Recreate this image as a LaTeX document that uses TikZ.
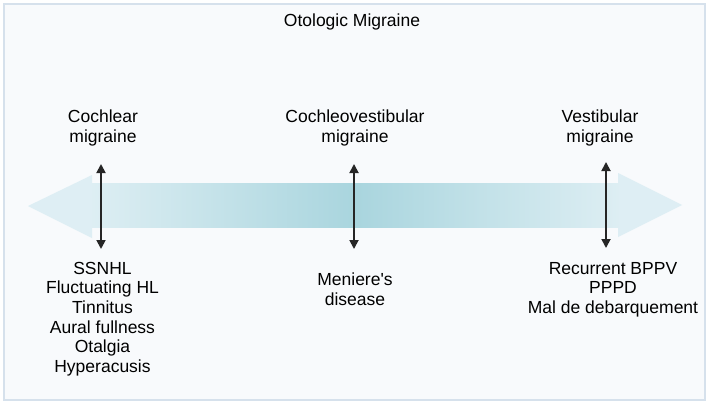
\documentclass[tikz,border=0pt]{standalone}
\usepackage{fontspec}
\setmainfont{Liberation Sans}[Ligatures=TeXOff]
\usetikzlibrary{arrows.meta}
\definecolor{bgfill}{HTML}{F8FAFC}
\definecolor{bgline}{HTML}{D6E1EC}
\definecolor{arrend}{HTML}{DDEEF3}
\definecolor{arrmid}{HTML}{A9D5DE}
\definecolor{arrhead}{HTML}{DEEEF4}
\tikzset{
  lbl/.style={align=center, inner sep=0pt, font=\fontsize{17.5}{19.7}\selectfont, text=black},
  dbl/.style={{Triangle[length=9pt,width=9pt]}-{Triangle[length=9pt,width=9pt]}, line width=1.8pt, black!85}
}
\begin{document}
\begin{tikzpicture}[x=1pt,y=-1pt]
\useasboundingbox (0,0) rectangle (709,404);
\draw[bgline, fill=bgfill, line width=1.5pt] (4,4) rectangle (705,400);
% big horizontal arrow
\fill[arrhead] (92,175) -- (28,206) -- (92,238) -- cycle;
\fill[arrhead] (618,173) -- (682,205) -- (618,237) -- cycle;
\shade[left color=arrend, right color=arrend, middle color=arrmid] (92,183) rectangle (618,227);
% labels
\node[lbl] (title) at (352,22) {Otologic Migraine};
\node[lbl] (coch) at (103,128) {Cochlear\\migraine};
\node[lbl] (cv) at (355,128) {Cochleovestibular\\migraine};
\node[lbl] (vest) at (600,128) {Vestibular\\migraine};
\node[lbl] (cochlist) at (102.5,319) {SSNHL\\Fluctuating HL\\Tinnitus\\Aural fullness\\Otalgia\\Hyperacusis};
\node[lbl] (cvlist) at (355,289) {Meniere's\\disease};
\node[lbl] (vestlist) at (613,289.5) {Recurrent BPPV\\PPPD\\Mal de debarquement};
% vertical double arrows
\coordinate (a1t) at (101,164);
\coordinate (a1b) at (101,249);
\coordinate (a2t) at (354,164);
\coordinate (a2b) at (354,249);
\coordinate (a3t) at (606,162);
\coordinate (a3b) at (606,248);
\draw[dbl] (a1t) -- (a1b);
\draw[dbl] (a2t) -- (a2b);
\draw[dbl] (a3t) -- (a3b);
\end{tikzpicture}
\end{document}
